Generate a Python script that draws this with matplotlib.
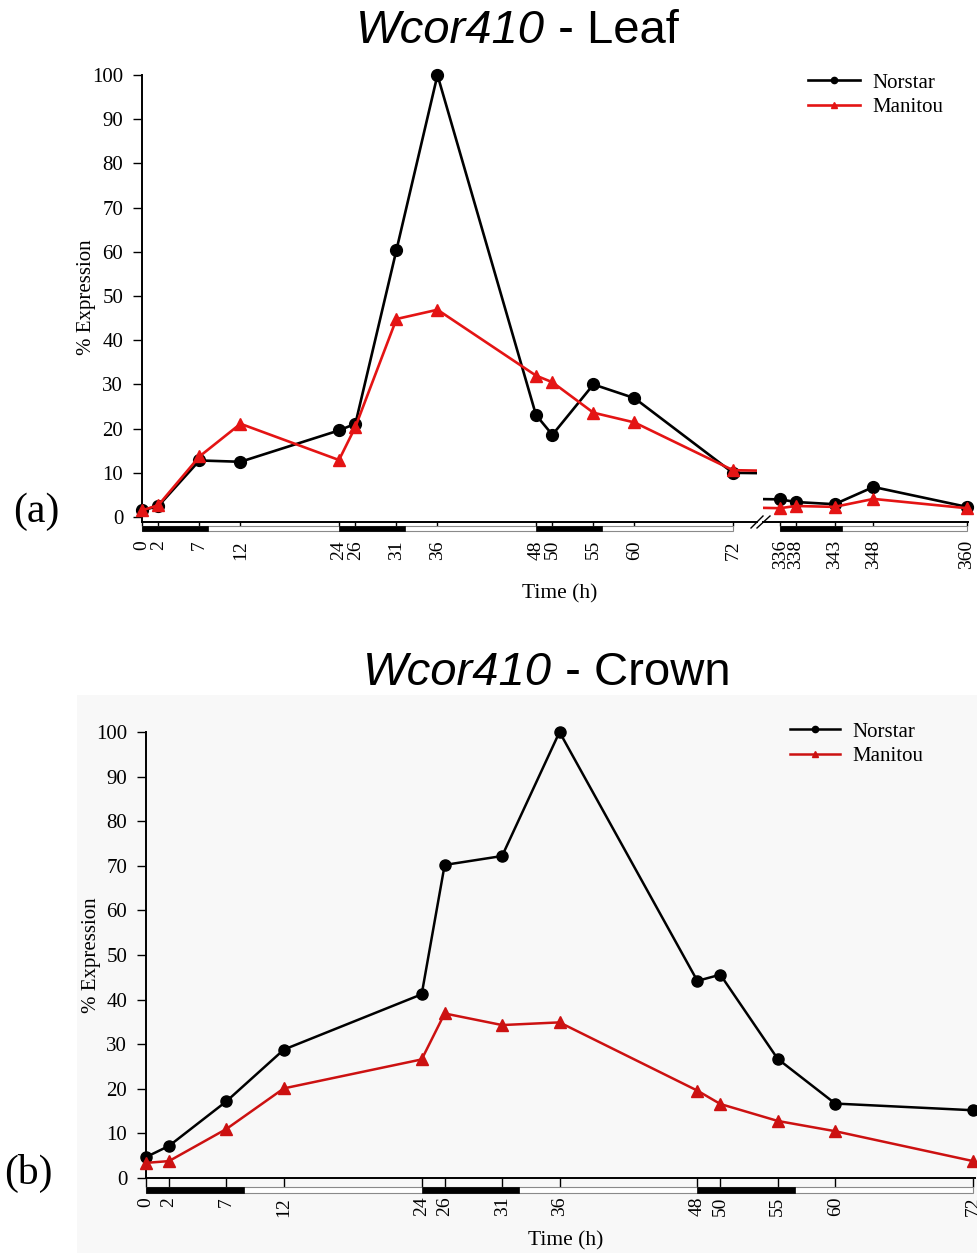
import numpy as np
import matplotlib
matplotlib.use('Agg')
import matplotlib.pyplot as plt
from matplotlib.patches import Rectangle
from matplotlib.lines import Line2D

# (a) leaf, time in hours
leaf_t = [0, 2, 7, 12, 24, 26, 31, 36, 48, 50, 55, 60, 72, 336, 338, 343, 348, 360]
leaf_norstar = [1.5, 2.5, 12.8, 12.5, 19.6, 21.1, 60.4, 100, 23.1, 18.6, 30.0, 26.9, 10.0,
                4.0, 3.4, 2.9, 6.8, 2.3]
leaf_manitou = [1.5, 2.7, 13.7, 21.1, 12.9, 20.4, 44.8, 46.9, 32.0, 30.5, 23.6, 21.4, 10.6,
                2.0, 2.5, 2.3, 4.1, 2.0]
leaf_ticks_a = [0, 2, 7, 12, 24, 26, 31, 36, 48, 50, 55, 60, 72]
leaf_ticks_b = [336, 338, 343, 348, 360]
leaf_dark = [(0, 8), (24, 32), (48, 56), (336, 344)]
leaf_spans = [(0, 72), (336, 360)]

# (b) crown
crown_t = [0, 2, 7, 12, 24, 26, 31, 36, 48, 50, 55, 60, 72]
crown_norstar = [4.7, 7.2, 17.2, 28.8, 41.2, 70.2, 72.2, 100, 44.2, 45.6, 26.7, 16.7, 15.2]
crown_manitou = [3.4, 3.8, 11.0, 20.1, 26.6, 36.9, 34.3, 34.9, 19.6, 16.6, 12.8, 10.5, 3.8]
crown_dark = [(0, 8.5), (24, 32.5), (48, 56.5)]
crown_span = (0, 72)

yticks = list(range(0, 101, 10))

plt.rcParams['font.family'] = ['Liberation Serif', 'DejaVu Serif']
W, H = 978, 1253
fig = plt.figure(figsize=(W / 100, H / 100), dpi=100)


def box(x0, y0, x1, y1):
    return [x0 / W, 1 - y1 / H, (x1 - x0) / W, (y1 - y0) / H]


def fx(x):
    return x / W


def fy(y):
    return 1 - y / H


# light grey backdrop behind the crown panel
fig.patches.append(Rectangle((fx(77), 0), 1 - fx(77), fy(695), transform=fig.transFigure,
                             fc='#f8f8f8', ec='none', zorder=-5))

RED_A = '#e41414'
RED_B = '#cc1111'


def day_bar(ax, spans, dark, ytop, ybot):
    lo, hi = ax.get_xlim()
    for a, b in spans:
        if a >= lo and b <= hi + 1:
            ax.add_patch(Rectangle((a, ybot), b - a, ytop - ybot, fc='white', ec='#8a8a8a',
                                   lw=0.8, clip_on=False, zorder=3))
    for a, b in dark:
        if a >= lo and a < hi:
            ax.add_patch(Rectangle((a, ybot), b - a, ytop - ybot, fc='black', ec='black',
                                   lw=0.5, clip_on=False, zorder=4))


def style_x(ax, base, ticks, length, pad):
    ax.spines['bottom'].set_position(('data', base))
    ax.spines['bottom'].set_linewidth(1.4)
    ax.spines['top'].set_visible(False)
    ax.spines['right'].set_visible(False)
    ax.set_xticks(ticks)
    ax.tick_params(axis='x', direction='out', length=length, width=1, pad=pad,
                   labelsize=14, labelrotation=90)


# ---------------- (a) leaf, broken axis ----------------
ax1 = fig.add_axes(box(142, 66.2, 757, 532.5))
ax2 = fig.add_axes(box(763, 66.2, 968, 532.5))
base_a = -1.13
for ax, lim in [(ax1, (0, 74.93)), (ax2, (333.8, 360.15))]:
    ax.set_facecolor('none')
    ax.set_xlim(*lim)
    ax.set_ylim(-3.5, 102)
    t = np.array(leaf_t)
    m = (t >= lim[0]) & (t <= lim[1])
    ax.plot(leaf_t, leaf_norstar, color='black', lw=1.9, zorder=5)
    ax.plot(leaf_t, leaf_manitou, color=RED_A, lw=1.9, zorder=6)
    ax.plot(t[m], np.array(leaf_norstar)[m], 'o', color='black', ms=8.5, clip_on=False, zorder=5)
    ax.plot(t[m], np.array(leaf_manitou)[m], '^', color=RED_A, ms=8.5, clip_on=False, zorder=6)
    day_bar(ax, leaf_spans, leaf_dark, -2.04, -3.17)

style_x(ax1, base_a, leaf_ticks_a, 3, 10)
style_x(ax2, base_a, leaf_ticks_b, 3, 10)
ax1.spines['left'].set_bounds(base_a, 100)
ax1.spines['left'].set_linewidth(1.4)
ax1.set_yticks(yticks)
ax1.tick_params(axis='y', direction='out', length=6.5, width=1, pad=7, labelsize=15)
ax2.spines['left'].set_visible(False)
ax2.set_yticks([])

# break marks
for x0, x1 in [(751, 763), (757, 770)]:
    fig.add_artist(Line2D([fx(x0), fx(x1)], [fy(528), fy(516)], color='black', lw=1.0,
                          transform=fig.transFigure))

leg_a = [Line2D([], [], color='black', lw=1.9, marker='o', ms=4.5),
         Line2D([], [], color=RED_A, lw=1.9, marker='^', ms=4.5)]
fig.legend(leg_a, ['Norstar', 'Manitou'], loc='upper left',
           bbox_to_anchor=(fx(808), fy(73)), frameon=False, handlelength=2.5,
           borderpad=0, borderaxespad=0, handletextpad=0.58, labelspacing=0.24,
           prop={'size': 15})

fig.text(fx(87), fy(297), '% Expression', rotation=90, ha='center', va='center', fontsize=15)
fig.text(fx(560), fy(594), 'Time (h)', ha='center', va='center', fontsize=15.5)
fig.text(fx(545), fy(43), 'Wcor410', ha='right', va='baseline', fontsize=34,
         family='Liberation Sans', style='italic')
fig.text(fx(545), fy(43), ' - Leaf', ha='left', va='baseline', fontsize=34,
         family='Liberation Sans')
fig.text(fx(13), fy(522), '(a)', ha='left', va='baseline', fontsize=30)

# ---------------- (b) crown ----------------
ax3 = fig.add_axes(box(146, 723.1, 975, 1194.1))
ax3.set_facecolor('none')
ax3.set_xlim(0, 72.17)
ax3.set_ylim(-3.6, 102)
ax3.plot(crown_t, crown_norstar, color='black', lw=1.8, marker='o', ms=8, clip_on=False, zorder=5)
ax3.plot(crown_t, crown_manitou, color=RED_B, lw=1.8, marker='^', ms=8, clip_on=False, zorder=6)
day_bar(ax3, [crown_span], crown_dark, -2.0, -3.36)
style_x(ax3, 0, crown_t, 6.5, 7)
ax3.spines['left'].set_bounds(0, 100)
ax3.spines['left'].set_linewidth(1.4)
ax3.set_yticks(yticks)
ax3.tick_params(axis='y', direction='out', length=6.5, width=1, pad=7, labelsize=15)

leg_b = [Line2D([], [], color='black', lw=1.8, marker='o', ms=4.5),
         Line2D([], [], color=RED_B, lw=1.8, marker='^', ms=4.5)]
fig.legend(leg_b, ['Norstar', 'Manitou'], loc='upper left',
           bbox_to_anchor=(fx(790), fy(722)), frameon=False, handlelength=2.4,
           borderpad=0, borderaxespad=0, handletextpad=0.58, labelspacing=0.24,
           prop={'size': 15})

fig.text(fx(92), fy(955), '% Expression', rotation=90, ha='center', va='center', fontsize=15)
fig.text(fx(566), fy(1241), 'Time (h)', ha='center', va='center', fontsize=15.5)
fig.text(fx(552), fy(685), 'Wcor410', ha='right', va='baseline', fontsize=34,
         family='Liberation Sans', style='italic')
fig.text(fx(552), fy(685), ' - Crown', ha='left', va='baseline', fontsize=34,
         family='Liberation Sans')
fig.text(fx(4), fy(1184), '(b)', ha='left', va='baseline', fontsize=30)

fig.savefig('out.png', dpi=100)
